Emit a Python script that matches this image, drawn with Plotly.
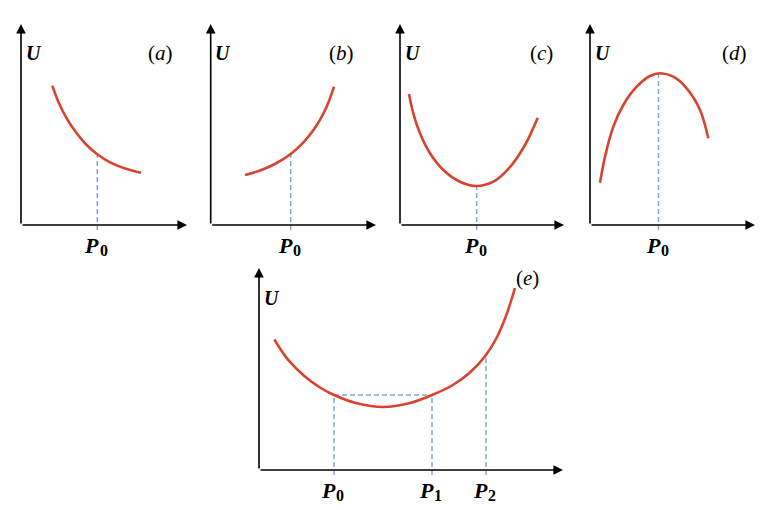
import plotly.graph_objects as go

# ---- data (units: P and U along each panel's axes) ----
a_P = [3.13, 3.73, 4.57, 5.57, 6.57, 7.63, 8.90, 10.57, 12.0]
a_U = [13.93, 12.33, 10.67, 9.17, 8.0, 7.07, 6.27, 5.6, 5.23]
a_P0 = 7.63

b_P = [3.43, 5.0, 6.5, 8.0, 9.3, 10.4, 11.3, 11.9, 12.33]
b_U = [5.0, 5.47, 6.15, 7.1, 8.29, 9.67, 11.2, 12.58, 13.83]
b_P0 = 8.0

c_P = [0.9, 1.33, 2.0, 3.0, 4.33, 6.0, 7.67, 9.33, 11.0, 12.5, 13.77]
c_U = [13.1, 11.17, 9.17, 7.17, 5.5, 4.33, 3.9, 4.33, 5.8, 8.0, 10.73]
c_P0 = 7.67

d_P = [1.0, 1.5, 2.33, 3.33, 4.67, 6.0, 7.0, 8.33, 9.67, 11.0, 11.83]
d_U = [4.23, 6.83, 9.83, 12.0, 13.83, 14.9, 15.17, 14.83, 13.67, 11.5, 8.67]
d_P0 = 6.85

e_P = [1.53, 2.9, 4.5, 6.1, 7.5, 9.7, 12.4, 15.1, 17.3, 19.3, 21.1, 22.7, 23.8, 24.7, 25.6]
e_U = [13.05, 11.03, 9.43, 8.25, 7.5, 6.7, 6.3, 6.7, 7.5, 8.45, 9.75, 11.5, 13.3, 15.4, 18.2]
e_marks = [7.5, 17.3, 22.7]
e_mark_labels = ["0", "1", "2"]

panel_tags = ["a", "b", "c", "d", "e"]

RED = "#d8432f"
BLUE = "#8aa5cb"
SERIF = "Liberation Serif"

# browser body margin compensation and figure size
OFF = 8
W, H = 772, 502
SC = 10.0  # px per unit

# panel geometry in page pixels: origin (ox, oy) and arrow tips (tx, ty)
geom = [
    (21, 225, 187, 24),
    (210.7, 225, 376, 24),
    (400, 225, 564, 24),
    (590, 225, 755, 24),
    (259, 470, 563, 268),
]
PADL, PADR, PADT, PADB = 12, 12, 12, 32

fig = go.Figure()
layout = dict(width=W, height=H, margin=dict(l=0, r=0, t=0, b=0),
              paper_bgcolor="white", plot_bgcolor="white", showlegend=False)
annotations = []

def interp(xs, ys, x):
    for i in range(len(xs) - 1):
        if xs[i] <= x <= xs[i + 1]:
            t = (x - xs[i]) / (xs[i + 1] - xs[i])
            return ys[i] + t * (ys[i + 1] - ys[i])
    return ys[-1]

curves = [(a_P, a_U, [a_P0]), (b_P, b_U, [b_P0]), (c_P, c_U, [c_P0]),
          (d_P, d_U, [d_P0]), (e_P, e_U, e_marks)]
tag_xs = [13.9, 13.1, 14.1, 14.4, 26.8]

dash_style = dict(color=BLUE, width=1.5, dash="5px,3px")

for k, ((ox, oy, tx, ty), (Ps, Us, marks)) in enumerate(zip(geom, curves)):
    n = k + 1
    ox, oy, tx, ty = ox - OFF, oy - OFF, tx - OFF, ty - OFF
    xa = "x" if n == 1 else f"x{n}"
    ya = "y" if n == 1 else f"y{n}"
    xkey = "xaxis" if n == 1 else f"xaxis{n}"
    ykey = "yaxis" if n == 1 else f"yaxis{n}"
    xlen = (tx - ox) / SC
    ylen = (oy - ty) / SC
    layout[xkey] = dict(domain=[(ox - PADL) / W, (tx + PADR) / W],
                        range=[-PADL / SC, xlen + PADR / SC],
                        visible=False, anchor=ya, fixedrange=True)
    layout[ykey] = dict(domain=[1 - (oy + PADB) / H, 1 - (ty - PADT) / H],
                        range=[-PADB / SC, ylen + PADT / SC],
                        visible=False, anchor=xa, fixedrange=True)

    # dashed guide lines
    mark_u = [interp(Ps, Us, m) for m in marks]
    for m, u in zip(marks, mark_u):
        fig.add_trace(go.Scatter(x=[m, m], y=[-0.5, u], mode="lines", xaxis=xa, yaxis=ya,
                                 line=dash_style, hoverinfo="skip"))
    if n == 5:
        fig.add_trace(go.Scatter(x=[marks[0], marks[1]], y=[mark_u[0], mark_u[0]],
                                 mode="lines", xaxis=xa, yaxis=ya,
                                 line=dash_style, hoverinfo="skip"))
    # red curve
    fig.add_trace(go.Scatter(x=Ps, y=Us, mode="lines", xaxis=xa, yaxis=ya,
                             line=dict(color=RED, width=2.6, shape="spline", smoothing=1.0),
                             hoverinfo="skip"))

    # axes with arrow heads
    for (x1, y1) in [(xlen, 0), (0, ylen)]:
        annotations.append(dict(x=x1, y=y1, ax=0, ay=0, xref=xa, yref=ya, axref=xa, ayref=ya,
                                showarrow=True, arrowhead=2, arrowsize=1.2, arrowwidth=1.6,
                                arrowcolor="black", text=""))

    # U label
    u_y = ylen - 2.9 if n < 5 else ylen - 3.0
    annotations.append(dict(x=1.25, y=u_y, xref=xa, yref=ya,
                            text="<b><i>U</i></b>", showarrow=False,
                            font=dict(family=SERIF, size=20, color="black")))
    # panel tag
    tag_y = ylen - 2.9 if n < 5 else ylen - 1.0
    annotations.append(dict(x=tag_xs[k], y=tag_y, xref=xa, yref=ya,
                            text=f"(<i>{panel_tags[k]}</i>)", showarrow=False,
                            font=dict(family=SERIF, size=21, color="black")))
    # P labels: italic P with a subscript index
    labels = ["0"] if n < 5 else e_mark_labels
    for m, lab in zip(marks, labels):
        annotations.append(dict(x=m - 0.55, y=-2.0, xref=xa, yref=ya,
                                text="<b><i>P</i></b>", showarrow=False,
                                font=dict(family=SERIF, size=22, color="black")))
        annotations.append(dict(x=m + 0.62, y=-2.5, xref=xa, yref=ya,
                                text=f"<b>{lab}</b>", showarrow=False,
                                font=dict(family=SERIF, size=16, color="black")))

layout["annotations"] = annotations
fig.update_layout(**layout)
fig.write_html("out.html")
